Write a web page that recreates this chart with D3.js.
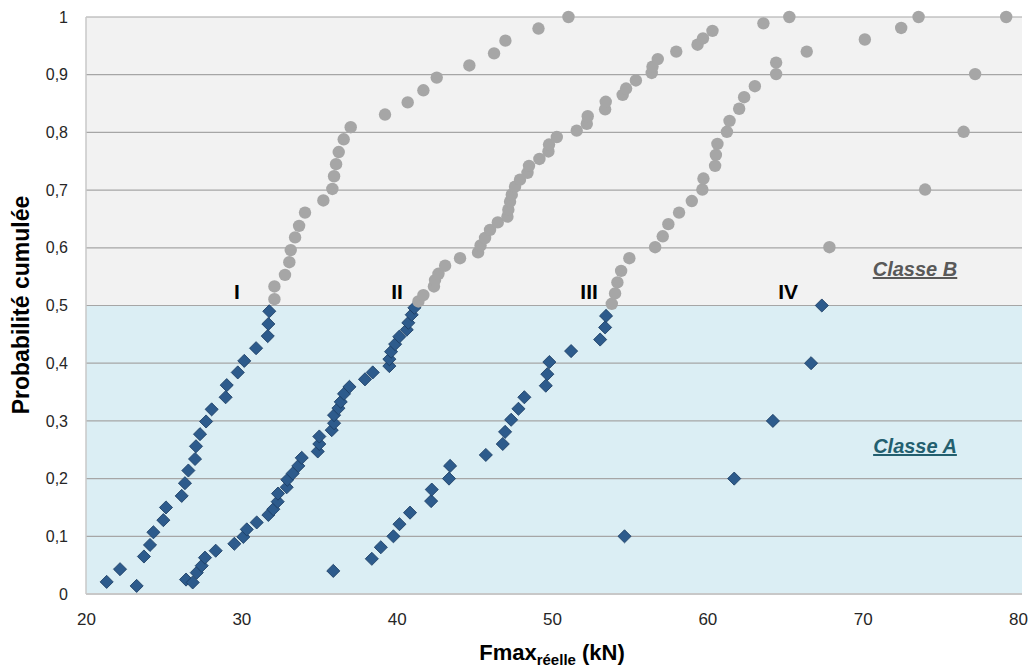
<!DOCTYPE html>
<html><head><meta charset="utf-8">
<script src="https://cdn.jsdelivr.net/npm/d3@7"></script>
<style>body{margin:0;background:#fff}</style>
</head><body><svg id="c" width="1035" height="669"></svg>
<script>
// ---- data (x = Fmax réelle kN, p = probabilité cumulée) ----
const classAI = [[21.33,0.021],[22.19,0.043],[23.26,0.014],[23.73,0.065],[24.12,0.085],[24.34,0.107],[24.98,0.128],[25.15,0.150],[26.16,0.170],[26.37,0.192],[26.59,0.214],[27.02,0.234],[27.08,0.256],[27.34,0.277],[27.73,0.299],[28.09,0.320],[28.99,0.341],[29.06,0.362],[29.77,0.384],[30.19,0.404],[30.95,0.426],[31.70,0.447],[31.74,0.468],[31.80,0.490]];
const classBI = [[32.13,0.511],[32.13,0.533],[32.81,0.553],[33.09,0.575],[33.18,0.596],[33.46,0.618],[33.72,0.638],[34.10,0.661],[35.28,0.682],[35.86,0.702],[35.97,0.724],[36.10,0.745],[36.27,0.766],[36.59,0.788],[37.04,0.809],[39.25,0.831],[40.71,0.852],[41.72,0.873],[42.58,0.895],[44.68,0.916],[46.27,0.937],[47.0,0.959],[49.13,0.980],[51.06,1.0]];
const classAII = [[26.44,0.025],[26.87,0.020],[27.13,0.037],[27.45,0.049],[27.66,0.063],[28.35,0.075],[29.55,0.087],[30.13,0.099],[30.35,0.112],[30.99,0.124],[31.74,0.137],[32.06,0.147],[32.34,0.160],[32.36,0.174],[32.92,0.185],[32.96,0.198],[33.31,0.209],[33.67,0.222],[33.89,0.236],[34.92,0.247],[35.02,0.260],[35.02,0.273],[35.82,0.284],[35.97,0.296],[35.97,0.310],[36.25,0.322],[36.40,0.333],[36.61,0.347],[36.96,0.359],[37.96,0.372],[38.46,0.384],[39.53,0.395],[39.53,0.407],[39.64,0.420],[39.90,0.433],[40.17,0.446],[40.65,0.458],[40.75,0.470],[40.97,0.484],[41.14,0.496]];
const classBII = [[41.40,0.507],[41.72,0.518],[42.40,0.533],[42.47,0.544],[42.69,0.555],[43.12,0.569],[44.08,0.582],[45.24,0.592],[45.40,0.604],[45.69,0.617],[46.01,0.631],[46.51,0.644],[47.13,0.654],[47.19,0.666],[47.30,0.680],[47.41,0.692],[47.62,0.706],[47.94,0.718],[48.42,0.730],[48.52,0.742],[49.19,0.754],[49.77,0.767],[49.81,0.779],[50.31,0.792],[51.59,0.803],[52.24,0.815],[52.30,0.828],[53.42,0.840],[53.46,0.853],[54.55,0.865],[54.77,0.876],[55.40,0.890],[56.42,0.903],[56.47,0.914],[56.81,0.927],[58.0,0.940],[59.37,0.952],[59.72,0.963],[60.33,0.976],[63.61,0.989],[65.28,1.0]];
const classAIII = [[35.92,0.040],[38.40,0.061],[38.98,0.081],[39.79,0.100],[40.18,0.121],[40.86,0.141],[42.22,0.161],[42.26,0.181],[43.37,0.200],[43.44,0.222],[45.74,0.241],[46.83,0.260],[46.98,0.281],[47.37,0.302],[47.84,0.321],[48.22,0.341],[49.60,0.361],[49.70,0.381],[49.83,0.402],[51.23,0.421],[53.10,0.441],[53.42,0.462],[53.48,0.482]];
const classBIII = [[53.85,0.503],[54.06,0.521],[54.21,0.540],[54.45,0.560],[54.98,0.582],[56.64,0.601],[57.13,0.620],[57.49,0.641],[58.18,0.661],[59.0,0.681],[59.68,0.701],[59.75,0.720],[60.5,0.742],[60.55,0.761],[60.65,0.780],[61.26,0.801],[61.43,0.820],[62.05,0.841],[62.37,0.861],[63.06,0.880],[64.43,0.901],[64.43,0.921],[66.4,0.940],[70.14,0.961],[72.48,0.981],[73.6,1.0]];
const classAIV = [[54.67,0.1],[61.73,0.2],[64.22,0.3],[66.68,0.4],[67.37,0.5]];
const classBIV = [[67.86,0.601],[74.02,0.701],[76.5,0.801],[77.24,0.901],[79.24,1.0]];
const groupLabels = [["I",29.72],["II",40.03],["III",52.39],["IV",65.2]];
const yTicks = [0,0.1,0.2,0.3,0.4,0.5,0.6,0.7,0.8,0.9,1];
const xTicks = [20,30,40,50,60,70,80];

const svg = d3.select("#c");
const x = d3.scaleLinear().domain([20,80]).range([86,1018]);
const y = d3.scaleLinear().domain([0,1]).range([594,17]);
const xr = 1022;

// zones
svg.append("rect").attr("x",86).attr("y",y(1)).attr("width",xr-86).attr("height",y(0.5)-y(1)).attr("fill","#f2f2f2");
svg.append("rect").attr("x",86).attr("y",y(0.5)).attr("width",xr-86).attr("height",y(0)-y(0.5)).attr("fill","#dbeef4");

// gridlines
svg.append("g").selectAll("line").data(yTicks.filter(d=>d>0)).join("line")
  .attr("x1",86).attr("x2",xr).attr("y1",d=>y(d)).attr("y2",d=>y(d))
  .attr("stroke","#a6a6a6").attr("stroke-width",1.2);
svg.append("line").attr("x1",86).attr("x2",xr).attr("y1",y(0)).attr("y2",y(0)).attr("stroke","#c8c8c8").attr("stroke-width",2);
svg.append("line").attr("x1",86).attr("x2",86).attr("y1",y(1)).attr("y2",y(0)).attr("stroke","#c8c8c8").attr("stroke-width",1.5);

// axes
const fmt = d => d3.format(".1~f")(d).replace(".",",");
const ya = svg.append("g").attr("transform","translate(86,0)")
  .call(d3.axisLeft(y).tickValues(yTicks).tickFormat(fmt).tickSize(0).tickPadding(18));
ya.select(".domain").remove();
ya.selectAll("text").attr("font-family","'Liberation Sans',Arial,sans-serif").attr("font-size",16).attr("fill","#262626");
const xa = svg.append("g").attr("transform","translate(0,594)")
  .call(d3.axisBottom(x).tickValues(xTicks).tickFormat(d3.format("d")).tickSize(0).tickPadding(19));
xa.select(".domain").remove();
xa.selectAll("text").attr("font-family","'Liberation Sans Narrow','Liberation Sans',Arial,sans-serif").attr("font-size",17).attr("fill","#262626");

// marks
const blue = [classAI,classAII,classAIII,classAIV].flat();
const gray = [classBI,classBII,classBIII,classBIV].flat();
const dia = d3.symbol().type(d3.symbolSquare).size(86);
svg.append("g").selectAll("path").data(blue).join("path")
  .attr("d",dia).attr("transform",d=>`translate(${x(d[0])},${y(d[1])}) rotate(45)`)
  .attr("fill","#2d5b8c").attr("stroke","#1c3d63").attr("stroke-width",0.8);
svg.append("g").selectAll("circle").data(gray).join("circle")
  .attr("cx",d=>x(d[0])).attr("cy",d=>y(d[1])).attr("r",6.2).attr("fill","#a6a6a6");

// group labels
svg.append("g").selectAll("text").data(groupLabels).join("text")
  .attr("x",d=>x(d[1])).attr("y",299).attr("text-anchor","middle")
  .attr("font-family","'Liberation Sans',Arial,sans-serif").attr("font-weight","bold").attr("font-size",21).attr("fill","#000")
  .text(d=>d[0]);

// class labels
function classLabel(txt,cy,col){
  svg.append("text").attr("x",915).attr("y",cy).attr("text-anchor","middle")
    .attr("font-family","'Liberation Sans',Arial,sans-serif").attr("font-weight","bold").attr("font-style","italic")
    .attr("font-size",20).attr("fill",col).attr("text-decoration","underline").text(txt);
}
classLabel("Classe B",276,"#595959");
classLabel("Classe A",453,"#235f6f");

// axis titles
svg.append("text").attr("transform","translate(29,305) rotate(-90)").attr("text-anchor","middle")
  .attr("font-family","'Liberation Sans Narrow','Liberation Sans',Arial,sans-serif").attr("font-weight","bold").attr("font-size",23).attr("fill","#000")
  .text("Probabilité cumulée");
const xt = svg.append("text").attr("x",552).attr("y",660).attr("text-anchor","middle")
  .attr("font-family","'Liberation Sans Narrow','Liberation Sans',Arial,sans-serif").attr("font-weight","bold").attr("font-size",22).attr("fill","#000");
xt.append("tspan").text("Fmax");
xt.append("tspan").attr("font-size",15).attr("dy",5).text("réelle");
xt.append("tspan").attr("dy",-5).text(" (kN)");
</script></body></html>
